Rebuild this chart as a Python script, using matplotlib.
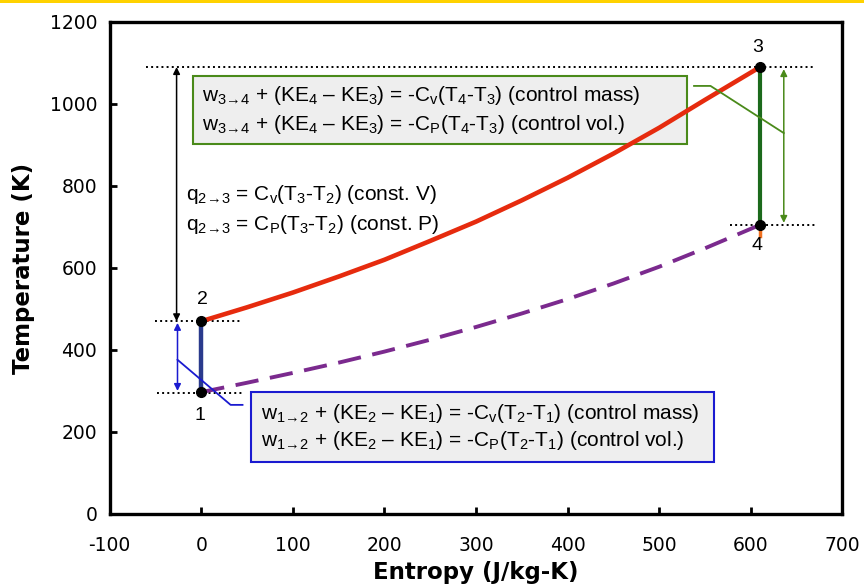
import matplotlib.pyplot as plt
from matplotlib.patches import Rectangle

plt.rcParams['mathtext.fontset'] = 'custom'
plt.rcParams['mathtext.rm'] = 'Liberation Sans'
plt.rcParams['mathtext.it'] = 'Liberation Sans:italic'
plt.rcParams['mathtext.bf'] = 'Liberation Sans:bold'
plt.rcParams['axes.unicode_minus'] = False

# states (entropy J/kg-K, temperature K)
s_state = [0, 0, 610, 610]
T_state = [297, 470, 1090, 705]
state_labels = ['1', '2', '3', '4']

# constant-volume lines
s_curve = [0, 50, 100, 150, 200, 250, 300, 350, 400, 450, 500, 550, 610]
T_hot = [470, 504, 540, 579, 620, 666, 713, 765, 820, 879, 942, 1010, 1090]
T_cold = [297, 320, 344, 369, 396, 425, 456, 489, 524, 562, 603, 648, 705]

x_ticks = [-100, 0, 100, 200, 300, 400, 500, 600, 700]
y_ticks = [0, 200, 400, 600, 800, 1000, 1200]

fig = plt.figure(figsize=(8.64, 5.86), dpi=100)
ax = fig.add_axes([0.127, 0.123, 0.848, 0.8395])

# yellow strip at the very top
fig.add_artist(Rectangle((0, 0.995), 1, 0.005, transform=fig.transFigure,
                         color='#FFD200', lw=0))

blue = '#1A1AD0'
green = '#4A8A1A'

# boxes
ax.add_patch(Rectangle((-9, 902), 539, 166, facecolor='#EEEEEE',
                       edgecolor=green, lw=1.5, zorder=2))
ax.add_patch(Rectangle((54, 127), 506, 170, facecolor='#EEEEEE',
                       edgecolor=blue, lw=1.5, zorder=2))

# process lines
ax.plot(s_curve, T_hot, color='#E62B0E', lw=3.3, zorder=4, solid_capstyle='round')
ax.plot(s_curve, T_cold, color='#7B2A8E', lw=2.8, dashes=(6, 3), zorder=3)
ax.plot([s_state[0], s_state[1]], [T_state[0], T_state[1]], color='#2A3A8C', lw=3.2, zorder=4)
ax.plot([s_state[2], s_state[3]], [T_state[2], T_state[3]], color='#1C6A1C', lw=3.0, zorder=4)
ax.plot([610, 610], [705, 678], color='#F07020', lw=2.5, zorder=3)
ax.plot(s_state, T_state, 'o', color='black', ms=7, zorder=6)

# dotted guide lines
ax.plot([-60, 670], [1090, 1090], ':', color='black', lw=1.4, zorder=1)
ax.plot([-51, 44], [470, 470], ':', color='black', lw=1.4, zorder=1)
ax.plot([-48, 44], [295, 295], ':', color='black', lw=1.4, zorder=1)
ax.plot([577, 672], [705, 705], ':', color='black', lw=1.4, zorder=1)

# arrows
ax.annotate('', xy=(-27, 1090), xytext=(-27, 470),
            arrowprops=dict(arrowstyle='<|-|>', color='black', lw=1.1,
                            mutation_scale=10, shrinkA=0, shrinkB=0))
ax.annotate('', xy=(-26, 466), xytext=(-26, 300),
            arrowprops=dict(arrowstyle='<|-|>', color=blue, lw=1.1,
                            mutation_scale=10, shrinkA=0, shrinkB=0))
ax.annotate('', xy=(636, 1085), xytext=(636, 710),
            arrowprops=dict(arrowstyle='<|-|>', color=green, lw=1.1,
                            mutation_scale=10, shrinkA=0, shrinkB=0))

# leader lines
ax.plot([-26, 32, 45], [376, 266, 266], color=blue, lw=1.3, zorder=5)
ax.plot([538, 556, 636], [1044, 1044, 929], color=green, lw=1.3, zorder=5)

tf = dict(fontsize=15, family='Liberation Sans', va='center', zorder=7)
ax.text(1, 1020, r'w$_{3\!\rightarrow\!4}$ + (KE$_{4}$ – KE$_{3}$) = -C$_{\mathrm{v}}$(T$_{4}$-T$_{3}$) (control mass)', **tf)
ax.text(1, 949, r'w$_{3\!\rightarrow\!4}$ + (KE$_{4}$ – KE$_{3}$) = -C$_{\mathrm{P}}$(T$_{4}$-T$_{3}$) (control vol.)', **tf)
ax.text(65, 246, r'w$_{1\!\rightarrow\!2}$ + (KE$_{2}$ – KE$_{1}$) = -C$_{\mathrm{v}}$(T$_{2}$-T$_{1}$) (control mass)', **tf)
ax.text(65, 178, r'w$_{1\!\rightarrow\!2}$ + (KE$_{2}$ – KE$_{1}$) = -C$_{\mathrm{P}}$(T$_{2}$-T$_{1}$) (control vol.)', **tf)
ax.text(-17, 780, r'q$_{2\!\rightarrow\!3}$ = C$_{\mathrm{v}}$(T$_{3}$-T$_{2}$) (const. V)', **tf)
ax.text(-17, 707, r'q$_{2\!\rightarrow\!3}$ = C$_{\mathrm{P}}$(T$_{3}$-T$_{2}$) (const. P)', **tf)

label_pos = [(-2, 239), (1, 522), (607, 1137), (607, 654)]
for lab, (lx, ly) in zip(state_labels, label_pos):
    ax.text(lx, ly, lab, fontsize=14, family='Liberation Sans', ha='center', va='center', zorder=7)

ax.set_xlim(-100, 700)
ax.set_ylim(0, 1200)
ax.set_xticks(x_ticks)
ax.set_yticks(y_ticks)
ax.tick_params(direction='in', length=5, width=2, labelsize=13.5)
ax.tick_params(axis='x', pad=16)
ax.tick_params(axis='y', pad=9)
for sp in ax.spines.values():
    sp.set_linewidth(2.4)
ax.set_xlabel('Entropy (J/kg-K)', fontsize=16.5, fontweight='bold', labelpad=4)
ax.set_ylabel('Temperature (K)', fontsize=16.5, fontweight='bold', labelpad=10.5)

fig.savefig('out.png', dpi=100)
